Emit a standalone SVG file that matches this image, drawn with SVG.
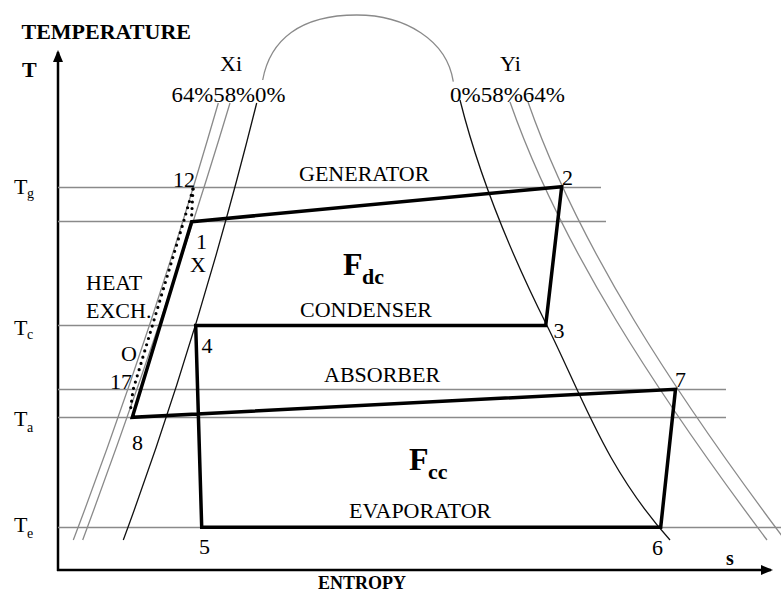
<svg xmlns="http://www.w3.org/2000/svg" width="781" height="592" viewBox="0 0 781 592">
<style>
.bg{fill:#fff}
.grid{stroke:#8a8a8a;stroke-width:1.3;fill:none}
.cg{stroke:#8a8a8a;stroke-width:1.3;fill:none}
.ck{stroke:#111;stroke-width:1.3;fill:none}
.cyc{stroke:#000;stroke-width:3.5;fill:none;stroke-linejoin:miter}
.dot{stroke:#000;stroke-width:3.2;fill:none;stroke-dasharray:0 6.5;stroke-linecap:round;stroke-linejoin:round}
.axis{stroke:#000;stroke-width:2.5;fill:none}
text{font-family:"Liberation Serif","Times New Roman",serif;fill:#000}
.t{font-size:22px}
.s{font-size:14px}
.b{font-weight:bold}
</style>
<defs>
<marker id="ah" markerWidth="12" markerHeight="10" refX="10" refY="5" orient="auto" markerUnits="userSpaceOnUse">
<path d="M0,0 L12,5 L0,10 Z" fill="#000"/>
</marker>
</defs>
<rect class="bg" width="781" height="592"/>

<g id="axes">
<line class="axis" x1="58" y1="571" x2="58" y2="52" marker-end="url(#ah)"/>
<line class="axis" x1="57" y1="570" x2="771" y2="570" marker-end="url(#ah)"/>
<text class="t b" x="21.5" y="39">TEMPERATURE</text>
<text class="t b" x="22" y="77">T</text>
<text class="b" x="318" y="589" font-size="18">ENTROPY</text>
<text class="b" x="726" y="565" font-size="20">s</text>
</g>

<g id="isotherms">
<line class="grid" x1="58" y1="187.5" x2="601" y2="187.5"/>
<line class="grid" x1="58" y1="221.5" x2="606" y2="221.5"/>
<line class="grid" x1="58" y1="325.5" x2="196" y2="325.5"/>
<line class="grid" x1="58" y1="389.5" x2="726" y2="389.5"/>
<line class="grid" x1="58" y1="417.5" x2="726" y2="417.5"/>
<line class="grid" x1="58" y1="527.5" x2="202" y2="527.5"/>
<line class="grid" x1="660" y1="527.5" x2="781" y2="527.5"/>
<text class="t" x="14" y="194">T</text><text class="s" x="27" y="198">g</text>
<text class="t" x="14" y="335">T</text><text class="s" x="27" y="339">c</text>
<text class="t" x="14" y="426">T</text><text class="s" x="27" y="432">a</text>
<text class="t" x="14" y="532">T</text><text class="s" x="27" y="538">e</text>
</g>

<g id="curves">
<path class="cg" d="M262.7,80 C270,40 300,15 356.7,15 C405,15 447,40 453.3,81.7"/>
<path class="ck" d="M256.7,103 C220.5,248 177,395 123.3,540"/>
<path class="cg" d="M230,103 C186.2,249 136.7,394 82.7,540"/>
<path class="cg" d="M218.3,103 C176,249 128.8,394 73.3,540"/>
<path class="ck" d="M460,100 C478.75,175 509.2,250 546.7,325 C582.5,396.7 605.5,468.3 670,540"/>
<path class="cg" d="M510,102 C561,248 657.5,394 767,540"/>
<path class="cg" d="M528,102 C579,248 675.5,394 785,540"/>
<text class="t" x="220" y="71">Xi</text>
<text class="t" x="171.5" y="102" textLength="114" lengthAdjust="spacingAndGlyphs">64%58%0%</text>
<text class="t" x="500" y="71">Yi</text>
<text class="t" x="450" y="102" textLength="115" lengthAdjust="spacingAndGlyphs">0%58%64%</text>
</g>

<g id="connectors">
<path class="cyc" d="M191.7,221.7 L561.7,186.7 L545.7,325.5 L195.7,325.5 L201.7,527.3 L660.7,527.3 L675.5,389.3 L132.3,417.3 Z"/>
<path class="dot" d="M193,189 L183.5,222 L133,390 L130.5,410"/>
<path class="dot" d="M193,189 L191.5,219"/>
</g>

<g id="p12"><text class="t" x="173" y="187">12</text></g>
<g id="p1"><text class="t" x="196" y="249">1</text></g>
<g id="pX"><text class="t" x="190" y="272">X</text></g>
<g id="p2"><text class="t" x="562" y="185">2</text></g>
<g id="p3"><text class="t" x="553.5" y="337.5">3</text></g>
<g id="p4"><text class="t" x="201.5" y="352.5">4</text></g>
<g id="pO"><text class="t" x="121" y="361">O</text></g>
<g id="p17"><text class="t" x="110" y="389">17</text></g>
<g id="p8"><text class="t" x="132" y="449.5">8</text></g>
<g id="p5"><text class="t" x="199" y="554">5</text></g>
<g id="p6"><text class="t" x="652" y="555">6</text></g>
<g id="p7"><text class="t" x="675" y="387">7</text></g>

<g id="heat-exchanger"><text class="t" x="86" y="290">HEAT</text><text class="t" x="86" y="318">EXCH.</text></g>
<g id="generator"><text class="t" x="299" y="181">GENERATOR</text></g>
<g id="condenser"><text class="t" x="300" y="317">CONDENSER</text></g>
<g id="absorber"><text class="t" x="324" y="382">ABSORBER</text></g>
<g id="evaporator"><text class="t" x="349" y="518">EVAPORATOR</text></g>
<g id="fdc"><text class="b" x="343" y="275" font-size="32">F</text><text class="b" x="362" y="284" font-size="22">dc</text></g>
<g id="fcc"><text class="b" x="409" y="470" font-size="32">F</text><text class="b" x="428" y="479" font-size="22">cc</text></g>
</svg>
